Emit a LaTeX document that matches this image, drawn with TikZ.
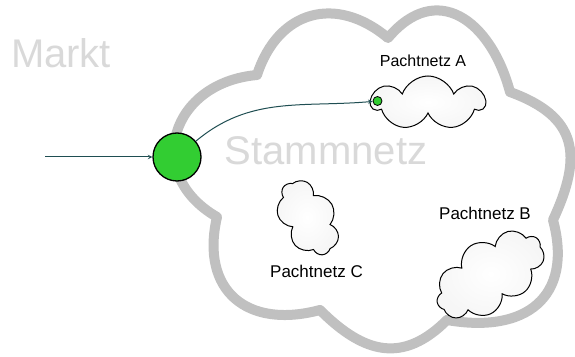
\documentclass[tikz,border=0pt]{standalone}
\usepackage{fontspec}
\setmainfont{Liberation Sans}
\usepackage{tikz}
\usetikzlibrary{shapes,arrows,positioning}

\definecolor{netzGray}{RGB}{192,192,192}
\definecolor{labelGray}{RGB}{217,217,217}
\definecolor{portGreen}{RGB}{50,205,50}
\definecolor{linkTeal}{RGB}{31,78,82}

\begin{document}
\begin{tikzpicture}[x=1pt,y=1pt,
  pachtnetz/.style={cloud, cloud puffs=8, cloud puff arc=140, draw=black, line width=1pt, inner color=white, outer color=gray!7, inner sep=0pt},
  bigtext/.style={color=labelGray, font=\fontsize{40}{40}\selectfont},
  smalltext/.style={font=\fontsize{17}{17}\selectfont},
  port/.style={circle, draw=black, fill=portGreen, inner sep=0pt},
  link/.style={->,>=stealth,color=linkTeal,line width=1pt}]
\useasboundingbox (0,0) rectangle (575,356);
% Stammnetz
\draw[line width=10pt,color=netzGray,fill=white,line join=round]
  (217,139) to[out=150,in=185,looseness=1.5] (257,281)
  to[out=72,in=140,looseness=1.28] (388,318)
  to[out=50,in=105,looseness=1.44] (510,264)
  to[out=-20,in=65,looseness=1.36] (553,136)
  to[out=-75,in=-10,looseness=1.4] (447,36)
  to[out=225,in=-45,looseness=1.25] (320,46)
  to[out=195,in=-103,looseness=1.39] cycle;
\node[bigtext] (markt) at (61,303) {Markt};
\node[bigtext] (stamm) at (326,205) {Stammnetz};
% Pachtnetze
\node[pachtnetz, cloud puffs=7, aspect=2.1, minimum width=113pt, minimum height=54pt] (netzA) at (428,253) {};
\node[pachtnetz, cloud puffs=9, aspect=1.7, minimum width=120pt, minimum height=70pt, rotate=33] (netzB) at (490,81) {};
\node[pachtnetz, cloud puffs=7, aspect=1.4, minimum width=80pt, minimum height=55pt, rotate=-60] (netzC) at (308,138) {};
\node[smalltext, font=\fontsize{16}{16}\selectfont] (labA) at (423,295) {Pachtnetz A};
\node[smalltext] (labB) at (485,142.5) {Pachtnetz B};
\node[smalltext] (labC) at (316.5,85) {Pachtnetz C};
% Anschluss
\coordinate (start) at (45,199);
\node[port, minimum size=48pt, line width=1.3pt] (entry) at (177,199) {};
\node[port, minimum size=9pt, line width=0.8pt] (portA) at (377.5,255) {};
\draw[link] (start) -- (entry);
\draw[link] (entry) to[out=40,in=185] (portA);
\end{tikzpicture}
\end{document}
